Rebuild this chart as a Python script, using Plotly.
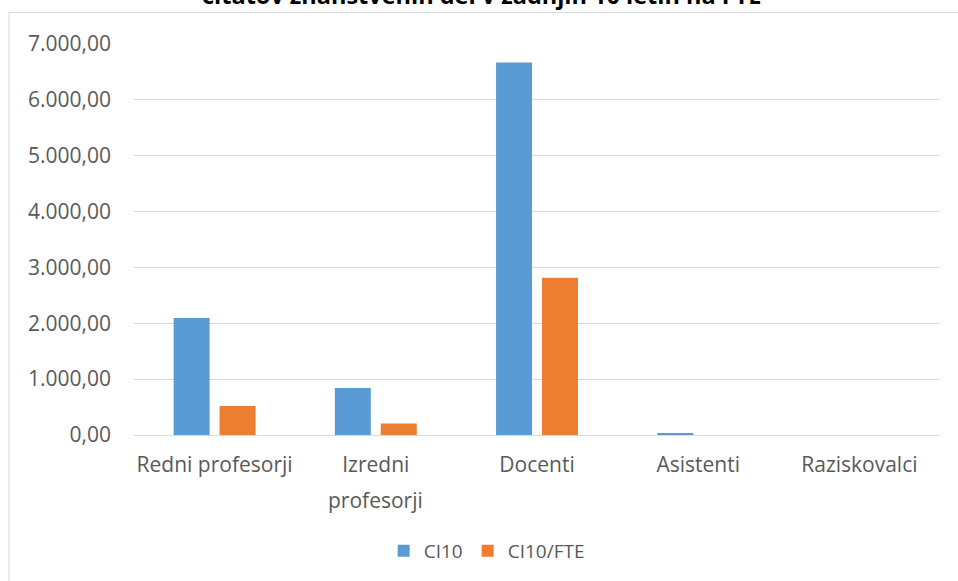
import plotly.graph_objects as go

categories = ["Redni profesorji", "Izredni profesorji", "Docenti", "Asistenti", "Raziskovalci"]
tick_labels = ["Redni profesorji", "Izredni", "Docenti", "Asistenti", "Raziskovalci"]
ci10 = [2095, 840, 6670, 38, 0]
ci10_fte = [520, 205, 2815, 0, 0]
title_text = "citatov znanstvenih del v zadnjih 10 letih na FTE"

TXT = "#595959"
GRID = "#D9D9D9"
FONT = "Open Sans"

W, H = 958, 581
ML, MR, MT, MB = 134, 18, 44, 146
PW = W - ML - MR
PH = H - MT - MB

def px_x(px):
    return (px - ML) / PW

def px_y(py):
    return 1 - (py - MT) / PH

fig = go.Figure()
fig.add_trace(go.Bar(name="CI10", x=categories, y=ci10,
                     marker=dict(color="#5B9BD5", line=dict(width=0))))
fig.add_trace(go.Bar(name="CI10/FTE", x=categories, y=ci10_fte,
                     marker=dict(color="#ED7D31", line=dict(width=0))))

fig.update_layout(
    width=W, height=H,
    margin=dict(l=ML, r=MR, t=MT, b=MB),
    paper_bgcolor="white", plot_bgcolor="white",
    font=dict(family=FONT, size=21, color=TXT),
    separators=",.",
    barmode="group", bargap=0.43, bargroupgap=0.217,
    showlegend=True,
    legend=dict(orientation="h", xref="container", yref="container",
                x=0.508, xanchor="center", y=30 / H, yanchor="middle",
                font=dict(family=FONT, size=19, color=TXT),
                itemwidth=30, traceorder="normal"),
    xaxis=dict(tickmode="array", tickvals=categories, ticktext=tick_labels,
               showgrid=False, showline=True, linecolor=GRID, linewidth=1,
               ticks="", ticklabelstandoff=11, tickfont=dict(size=21, color=TXT)),
    yaxis=dict(range=[0, 7000], dtick=1000, tickformat=",.2f",
               showgrid=True, gridcolor=GRID, gridwidth=1,
               zeroline=True, zerolinecolor=GRID, zerolinewidth=1,
               showline=False, ticks="", ticklabelstandoff=22,
               tickfont=dict(size=21, color=TXT)),
    shapes=[dict(type="rect", xref="paper", yref="paper",
                 x0=px_x(9), x1=px_x(990), y0=px_y(620), y1=px_y(12.5),
                 line=dict(color=GRID, width=1), fillcolor="rgba(0,0,0,0)",
                 layer="below")],
    annotations=[
        dict(text="<b>" + title_text + "</b>", xref="paper", yref="paper",
             x=px_x(481), y=px_y(-5), xanchor="center", yanchor="middle",
             showarrow=False, font=dict(family=FONT, size=23.5, color="black")),
        dict(text="profesorji", xref="x", yref="paper",
             x=categories[1], y=px_y(500), xanchor="center", yanchor="middle",
             showarrow=False, font=dict(family=FONT, size=21, color=TXT)),
    ],
)

fig.write_html("out.html", config={"displayModeBar": False},
               post_script="document.body.style.margin='0';document.body.style.overflow='hidden';")
